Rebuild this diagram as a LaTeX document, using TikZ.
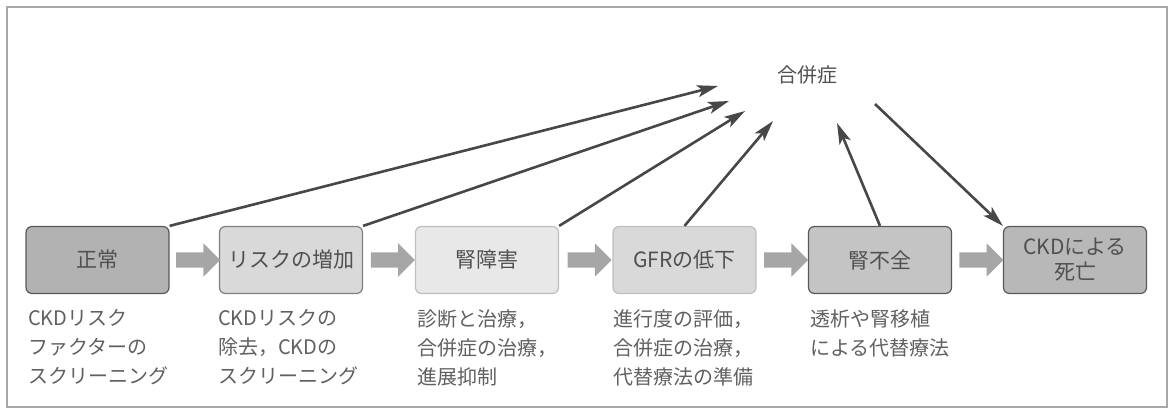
\documentclass[tikz,border=0pt]{standalone}
\usepackage{fontspec}
\setmainfont{Noto Sans CJK JP}
\usetikzlibrary{shapes.arrows,arrows.meta,calc}
\definecolor{txt}{HTML}{505050}
\definecolor{notec}{HTML}{606060}
\definecolor{framec}{HTML}{A8A8A8}
\definecolor{connc}{HTML}{474747}
\definecolor{blockc}{HTML}{A6A6A6}
\tikzset{
  stage/.style={rectangle, rounded corners=6pt, minimum width=143pt, minimum height=67pt,
    line width=1.2pt, align=center, text=txt, inner sep=0pt,
    font=\fontsize{21}{25}\selectfont},
  note/.style={anchor=north west, inner sep=0pt, align=left, text=notec,
    font=\fontsize{20}{29}\selectfont},
  comp/.style={inner sep=2pt, text=txt, font=\fontsize{20}{24}\selectfont},
  conn/.style={draw=connc, line width=2.6pt, -{Stealth[length=21pt,width=12pt,inset=5pt]}},
  blockarrow/.style={single arrow, fill=blockc, draw=none, inner sep=7.5pt,
    single arrow head extend=9pt, minimum height=44pt, shape border rotate=0}
}
\begin{document}
\begin{tikzpicture}[x=1pt,y=-1pt]
\useasboundingbox (0,0) rectangle (1175,415);
\draw[framec, line width=1.5pt] (7,7) rectangle (1167,407);

% stage boxes
\node[stage, fill=black!30, draw=black!65] (b1) at (97.5,260) {正常};
\node[stage, fill=black!15, draw=black!50] (b2) at (291,260) {リスクの増加};
\node[stage, fill=black!9, draw=black!25] (b3) at (487,260) {腎障害};
\node[stage, fill=black!15, draw=black!25] (b4) at (684.5,260) {GFRの低下};
\node[stage, fill=black!23, draw=black!65] (b5) at (880,260) {腎不全};
\node[stage, fill=black!28, draw=black!65] (b6) at (1075,260) {CKDによる\\死亡};

% block arrows between stages
\node[blockarrow] (a12) at ($(b1.east)!0.5!(b2.west)$) {};
\node[blockarrow] (a23) at ($(b2.east)!0.5!(b3.west)$) {};
\node[blockarrow] (a34) at ($(b3.east)!0.5!(b4.west)$) {};
\node[blockarrow] (a45) at ($(b4.east)!0.5!(b5.west)$) {};
\node[blockarrow] (a56) at ($(b5.east)!0.5!(b6.west)$) {};

% complications
\node[comp] (comp) at (807,75) {合併症};
\coordinate (t1) at (718,86);
\coordinate (t2) at (729,101);
\coordinate (t3) at (745,111);
\coordinate (t4) at (773,121);
\coordinate (t5) at (837,123);
\coordinate (s6) at (875,104);

\draw[conn] (b1.north east) -- (t1);
\draw[conn] (b2.north east) -- (t2);
\draw[conn] (b3.north east) -- (t3);
\draw[conn] (b4.north) -- (t4);
\draw[conn] (b5.north) -- (t5);
\draw[conn] (s6) -- (b6.north west);

% notes
\node[note] (n1) at (28,309) {CKDリスク\\ファクターの\\スクリーニング};
\node[note] (n2) at (218,309) {CKDリスクの\\除去，CKDの\\スクリーニング};
\node[note] (n3) at (417,309) {診断と治療，\\合併症の治療，\\進展抑制};
\node[note] (n4) at (613,309) {進行度の評価，\\合併症の治療，\\代替療法の準備};
\node[note] (n5) at (810,309) {透析や腎移植\\による代替療法};
\end{tikzpicture}
\end{document}
